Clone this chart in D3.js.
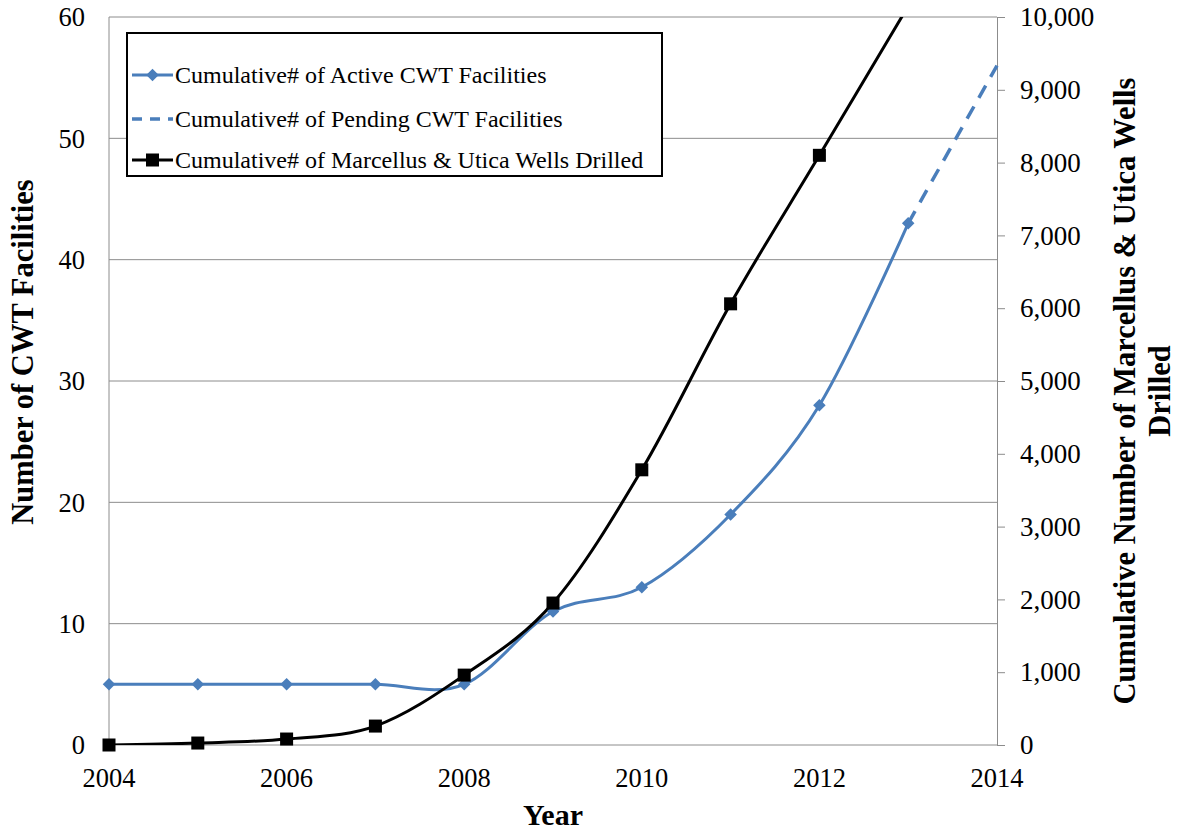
<!DOCTYPE html>
<html>
<head>
<meta charset="utf-8">
<script src="https://cdn.jsdelivr.net/npm/d3@7"></script>
<style>
  body { margin: 0; background: #fff; }
</style>
</head>
<body>
<script>
// data
const years = [2004, 2005, 2006, 2007, 2008, 2009, 2010, 2011, 2012, 2013];
const activeCWT = [5, 5, 5, 5, 5, 11, 13, 19, 28, 43];
const pendingYears = [2013, 2014];
const pendingCWT = [43, 56];
const wellsDrilled = [0, 27, 82, 260, 960, 1950, 3780, 6060, 8100, 10150];

const leftTicks = [0, 10, 20, 30, 40, 50, 60];
const rightTicks = [0, 1000, 2000, 3000, 4000, 5000, 6000, 7000, 8000, 9000, 10000];
const xTicks = [2004, 2006, 2008, 2010, 2012, 2014];

const W = 1179, H = 833;
const m = {left: 109, right: 182, top: 17, bottom: 88};
const pw = W - m.left - m.right, ph = H - m.top - m.bottom;
const serif = "'Times New Roman', 'Liberation Serif', serif";

const svg = d3.select("body").append("svg").attr("width", W).attr("height", H)
  .attr("font-family", serif);

const x = d3.scaleLinear().domain([2004, 2014]).range([m.left, m.left + pw]);
const yL = d3.scaleLinear().domain([0, 60]).range([m.top + ph, m.top]);
const yR = d3.scaleLinear().domain([0, 10000]).range([m.top + ph, m.top]);

const blue = "#4A7EBB";
const grid = "#8c8c8c";

// gridlines
svg.append("g").selectAll("line").data(leftTicks.filter(d => d > 0)).enter().append("line")
  .attr("x1", m.left).attr("x2", m.left + pw)
  .attr("y1", d => yL(d)).attr("y2", d => yL(d))
  .attr("stroke", grid).attr("stroke-width", 1);

// axes lines
svg.append("line").attr("x1", m.left).attr("x2", m.left + pw)
  .attr("y1", m.top + ph).attr("y2", m.top + ph).attr("stroke", grid);
svg.append("line").attr("x1", m.left).attr("x2", m.left)
  .attr("y1", m.top).attr("y2", m.top + ph).attr("stroke", grid);

// right axis with outer ticks
const rAxis = svg.append("g").attr("transform", `translate(${m.left + pw},0)`)
  .call(d3.axisRight(yR).tickValues(rightTicks).tickSize(8).tickPadding(15).tickFormat(d3.format(",")));
rAxis.attr("font-family", serif).attr("font-size", 27);
rAxis.select(".domain").attr("stroke", grid);
rAxis.selectAll(".tick line").attr("stroke", grid);
rAxis.selectAll("text").attr("fill", "#000");

// left tick labels
svg.append("g").selectAll("text").data(leftTicks).enter().append("text")
  .attr("x", m.left - 24).attr("y", d => yL(d))
  .attr("dy", "0.35em").attr("text-anchor", "end").attr("font-size", 26.5)
  .text(d => d);

// x tick labels
svg.append("g").selectAll("text").data(xTicks).enter().append("text")
  .attr("x", d => x(d)).attr("y", m.top + ph + 42)
  .attr("text-anchor", "middle").attr("font-size", 26.5)
  .text(d => d);

// axis titles
svg.append("text").attr("x", x(2009)).attr("y", 825).attr("text-anchor", "middle")
  .attr("font-size", 30).attr("font-weight", "bold").text("Year");
svg.append("text").attr("transform", `translate(33,352) rotate(-90)`)
  .attr("text-anchor", "middle").attr("font-size", 30.5).attr("font-weight", "bold")
  .text("Number of CWT Facilities");
const rt = svg.append("text").attr("transform", `translate(1135,${yL(30) + 10}) rotate(-90)`)
  .attr("text-anchor", "middle").attr("font-size", 30.5).attr("font-weight", "bold");
rt.append("tspan").attr("x", 0).attr("dy", 0).text("Cumulative Number of Marcellus & Utica Wells");
rt.append("tspan").attr("x", 0).attr("dy", 35).text("Drilled");

// clip lines to the plot, markers only top/bottom
svg.append("clipPath").attr("id", "plot").append("rect")
  .attr("x", m.left).attr("y", m.top).attr("width", pw + 2).attr("height", ph);
svg.append("clipPath").attr("id", "marks").append("rect")
  .attr("x", 0).attr("y", m.top).attr("width", W).attr("height", ph + 12);

const plot = svg.append("g").attr("clip-path", "url(#plot)");
const marks = svg.append("g").attr("clip-path", "url(#marks)");
const curve = d3.curveCardinal.tension(0);

const activeData = years.map((yr, i) => [yr, activeCWT[i]]);
const pendingData = pendingYears.map((yr, i) => [yr, pendingCWT[i]]);
const wellData = years.map((yr, i) => [yr, wellsDrilled[i]]);

plot.append("path").datum(pendingData)
  .attr("d", d3.line().x(d => x(d[0])).y(d => yL(d[1])))
  .attr("fill", "none").attr("stroke", blue).attr("stroke-width", 3.5)
  .attr("stroke-dasharray", "14,10");

plot.append("path").datum(activeData)
  .attr("d", d3.line().curve(curve).x(d => x(d[0])).y(d => yL(d[1])))
  .attr("fill", "none").attr("stroke", blue).attr("stroke-width", 3);

const diamond = d3.symbol().type(d3.symbolDiamond2).size(100);
marks.append("g").selectAll("path").data(activeData).enter().append("path")
  .attr("d", diamond).attr("transform", d => `translate(${x(d[0])},${yL(d[1])})`)
  .attr("fill", blue);

plot.append("path").datum(wellData)
  .attr("d", d3.line().curve(curve).x(d => x(d[0])).y(d => yR(d[1])))
  .attr("fill", "none").attr("stroke", "#000").attr("stroke-width", 3);

marks.append("g").selectAll("rect").data(wellData).enter().append("rect")
  .attr("x", d => x(d[0]) - 6.5).attr("y", d => yR(d[1]) - 6.5)
  .attr("width", 13).attr("height", 13).attr("fill", "#000");

// legend
const lg = svg.append("g").attr("transform", "translate(127,33)");
lg.append("rect").attr("width", 535).attr("height", 143)
  .attr("fill", "#fff").attr("stroke", "#000").attr("stroke-width", 2);
const entries = [
  {label: "Cumulative# of Active CWT Facilities", y: 42, kind: "active"},
  {label: "Cumulative# of Pending CWT Facilities", y: 86, kind: "pending"},
  {label: "Cumulative# of Marcellus & Utica Wells Drilled", y: 127, kind: "wells"}
];
entries.forEach(e => {
  if (e.kind === "active") {
    lg.append("line").attr("x1", 5).attr("x2", 46).attr("y1", e.y).attr("y2", e.y)
      .attr("stroke", blue).attr("stroke-width", 3);
    lg.append("path").attr("d", diamond).attr("transform", `translate(25.5,${e.y})`).attr("fill", blue);
  } else if (e.kind === "pending") {
    lg.append("line").attr("x1", 5).attr("x2", 46).attr("y1", e.y).attr("y2", e.y)
      .attr("stroke", blue).attr("stroke-width", 3.5).attr("stroke-dasharray", "10,8");
  } else {
    lg.append("line").attr("x1", 5).attr("x2", 46).attr("y1", e.y).attr("y2", e.y)
      .attr("stroke", "#000").attr("stroke-width", 3);
    lg.append("rect").attr("x", 19).attr("y", e.y - 6.5).attr("width", 13).attr("height", 13).attr("fill", "#000");
  }
  lg.append("text").attr("x", 48).attr("y", e.y).attr("dy", "0.35em")
    .attr("font-size", 24).text(e.label);
});
</script>
</body>
</html>
